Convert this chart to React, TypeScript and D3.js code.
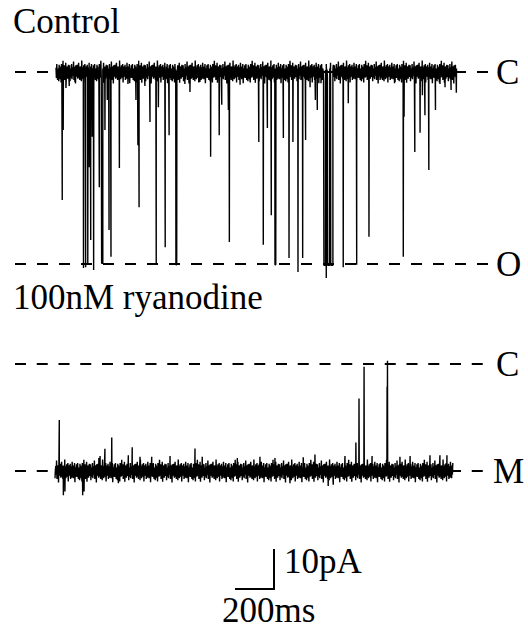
import React from "react";
import * as d3 from "d3";

const W = 528;
const H = 631;

// Control recording: [time (ms), current (pA), dwell (ms)]
const controlEvents: [number, number, number][] = [
  [32, -32, 0], [37, -14.5, 0], [51, -4, 0], [68, -3.5, 0], [97, -2.5, 0],
  [141, -49, 0], [152, -48.8, 0], [163, -48.2, 0], [171, -23.8, 0], [178, -42, 0],
  [186, -16.2, 0], [193, -49.5, 0], [222, -28.8, 0], [234, -47.8, 6], [251, -14.5, 0],
  [263, -7, 0], [272, -39.5, 0], [282, -46.2, 0], [325, -24, 0], [369, -3, 0],
  [410, -7, 0], [420, -18.2, 3], [426, -33.8, 0], [456, -3.5, 0], [482, -12.5, 0],
  [514, -47.8, 0], [525, -8.8, 0], [560, -43.8, 0], [580, -15.8, 0], [615, -48.2, 4],
  [661, -3, 0], [687, -5, 0], [738, -2.5, 0], [793, -21.2, 0], [837, -15.8, 0],
  [850, -8.2, 0], [884, -9.5, 0], [889, -42.5, 0], [944, -3.2, 0], [995, -2, 0],
  [1040, -17.5, 0], [1063, -43.2, 0], [1084, -14, 0], [1104, -35.8, 0], [1123, -48.2, 4],
  [1166, -16.5, 0], [1195, -46.5, 0], [1215, -17.5, 0], [1241, -50, 0], [1265, -46.5, 0],
  [1280, -17, 0], [1303, -3.8, 0], [1330, -7, 0], [1340, -9.5, 0], [1359, -2.8, 0],
  [1374, -48.3, 8], [1386, -51.5, 0], [1393, -48.3, 10], [1409, -48.3, 11],
  [1473, -48.8, 0], [1499, -7.8, 0], [1542, -48.2, 0], [1605, -41.2, 0], [1662, -2, 0],
  [1739, -2.5, 0], [1781, -46.2, 0], [1785, -11.2, 0], [1840, -20, 0], [1867, -15.2, 0],
  [1879, -5.8, 0], [1892, -10.8, 0], [1912, -24.5, 0], [1946, -9.5, 0], [1969, -3, 0],
  [1995, -3.8, 0], [2026, -4.5, 0], [2053, -5.2, 0],
];

// 100 nM ryanodine recording: [time (ms), current (pA), dwell (ms)]
const ryanodineEvents: [number, number, number][] = [
  [22, -14, 0], [43, -32.8, 0], [51, -31.9, 0], [142, -32.8, 0], [149, -31.9, 0],
  [225, -23.5, 0], [231, -23, 0], [256, -21.2, 0], [291, -18.4, 0], [325, -29.8, 0],
  [376, -22.8, 0], [396, -20.8, 0], [436, -23.2, 0], [496, -23.2, 0], [590, -23, 0],
  [718, -21.1, 0], [755, -23.2, 0], [935, -23.5, 0], [1051, -23.2, 0], [1128, -23.5, 0],
  [1205, -29.8, 0], [1273, -23.3, 0], [1333, -22.6, 0], [1401, -30.5, 0], [1427, -30.2, 0],
  [1487, -23, 0], [1543, -19.6, 0], [1559, -8.6, 0], [1585, -0.7, 0], [1626, -23, 0],
  [1703, -5.7, 0], [1705, 0.8, 0], [1769, -23.2, 0], [1821, -23, 0], [1923, -22.8, 0],
  [1974, -22.8, 0], [2010, -22.8, 0],
];

// baseline noise pattern (pA)
const noisePattern: number[] = [
  1.1, -1.5, 2.0, -0.5, -2.0, 0.9, 0.3, -2.3, 1.8, -0.6, 1.4, -1.8, 0.5, -2.6, 2.0, -0.9,
  0.6, -1.4, 2.8, -1.2, 0.0, 1.7, -2.0, 0.9, -0.6, 2.3, -2.7, 1.2, -0.3, 1.4, -1.7, 0.6,
  1.8, -1.2, -0.5, 1.7, -2.3, 0.9, 0.5, -1.4, 2.0, -1.8, 0.3, 1.2, -0.9, 2.6, -2.0, 0.6,
  -0.5, 1.4, -2.9, 1.7, 0.5, -1.2, 1.8, -0.6, -1.7, 0.9, 2.3, -1.4, 0.3, -2.0, 1.4, -0.5,
  0.6, -2.3, 2.9, -0.9, 1.2, -1.8, 0.5, 1.7, -1.4, -0.3, 2.0, -2.6, 0.9, -0.6, 1.4, -1.2,
  1.8, -2.0, 0.3, 1.2, -1.7, 2.3, -0.5, 0.6, -1.8, 1.4, -0.9, 2.0, -2.8, 0.5, 0.9, -1.4, 1.7,
];

const controlDuration = 2055;
const ryanodineDuration = 2042;
const controlLevels = [0, -48];
const ryanodineLevels = [0, -26.75];
const controlLevelLabels = ["C", "O"];
const ryanodineLevelLabels = ["C", "M"];
const titles = ["Control", "100nM ryanodine"];
const scaleBar = { ms: 200, pA: 10 };
const scaleLabels = ["10pA", "200ms"];

const FONT = "Liberation Serif, DejaVu Serif, Times New Roman, serif";

function buildTrace(
  events: [number, number, number][],
  duration: number,
  base: number,
  offset: number
): [number, number][] {
  const evs = [...events].sort((a, b) => a[0] - b[0]);
  const pts: [number, number][] = [];
  const n = noisePattern.length;
  let ei = 0;
  let skipUntil = -1;
  d3.range(0, duration, 2.0).forEach((s, i) => {
    while (ei < evs.length && evs[ei][0] <= s) {
      const [t, a, d] = evs[ei];
      pts.push([t, a]);
      if (d > 0) {
        pts.push([t + d, a]);
        skipUntil = t + d;
      }
      ei++;
    }
    if (s < skipUntil) return;
    pts.push([s, base + noisePattern[(i + offset) % n]]);
  });
  return pts;
}

const textStyle: React.CSSProperties = { fontFamily: FONT, fontSize: 35 };

export default function App() {
  const xTop = d3.scaleLinear().domain([0, 2060]).range([56, 457.7]);
  const xBot = d3.scaleLinear().domain([0, 2060]).range([55, 456.7]);
  const yTop = d3.scaleLinear().domain(controlLevels).range([72, 264]);
  const yBot = d3.scaleLinear().domain(ryanodineLevels).range([364, 471]);

  const topPts = buildTrace(controlEvents, controlDuration, controlLevels[0], 0);
  const botPts = buildTrace(ryanodineEvents, ryanodineDuration, ryanodineLevels[1], 41);

  const lineTop = d3
    .line<[number, number]>()
    .x((d) => xTop(d[0]))
    .y((d) => yTop(d[1]));
  const lineBot = d3
    .line<[number, number]>()
    .x((d) => xBot(d[0]))
    .y((d) => yBot(d[1]));

  const barRight = 274;
  const barBottom = 589;
  const barW = xTop(scaleBar.ms) - xTop(0);
  const barH = yTop(-scaleBar.pA) - yTop(0);

  return (
    <svg width={W} height={H} style={{ position: "absolute", left: 0, top: 0, background: "#fff" }}>
      <rect width={W} height={H} fill="#fff" />
      {controlLevels.map((lv) => (
        <line
          key={"tl" + lv}
          x1={15}
          x2={488}
          y1={yTop(lv)}
          y2={yTop(lv)}
          stroke="#000"
          strokeWidth={2}
          strokeDasharray="11 11"
        />
      ))}
      {ryanodineLevels.map((lv) => (
        <line
          key={"bl" + lv}
          x1={15}
          x2={484}
          y1={yBot(lv)}
          y2={yBot(lv)}
          stroke="#000"
          strokeWidth={2}
          strokeDasharray="11 10.75"
        />
      ))}
      <path d={lineTop(topPts) || ""} fill="none" stroke="#000" strokeWidth={1.4} strokeLinejoin="bevel" />
      <path d={lineBot(botPts) || ""} fill="none" stroke="#000" strokeWidth={1.4} strokeLinejoin="bevel" />
      <text x={13} y={33} style={textStyle} fill="#000">
        {titles[0]}
      </text>
      <text x={13} y={309} style={textStyle} fill="#000">
        {titles[1]}
      </text>
      {controlLevels.map((lv, i) => (
        <text key={"tlab" + i} x={496} y={yTop(lv) + 12} style={textStyle} fill="#000">
          {controlLevelLabels[i]}
        </text>
      ))}
      {ryanodineLevels.map((lv, i) => (
        <text key={"blab" + i} x={i === 0 ? 496 : 493} y={yBot(lv) + 12} style={textStyle} fill="#000">
          {ryanodineLevelLabels[i]}
        </text>
      ))}
      <path
        d={`M${barRight - barW},${barBottom}H${barRight}V${barBottom - barH}`}
        fill="none"
        stroke="#000"
        strokeWidth={2}
      />
      <text x={284} y={573} style={textStyle} fill="#000">
        {scaleLabels[0]}
      </text>
      <text x={222} y={622} style={textStyle} fill="#000">
        {scaleLabels[1]}
      </text>
    </svg>
  );
}
